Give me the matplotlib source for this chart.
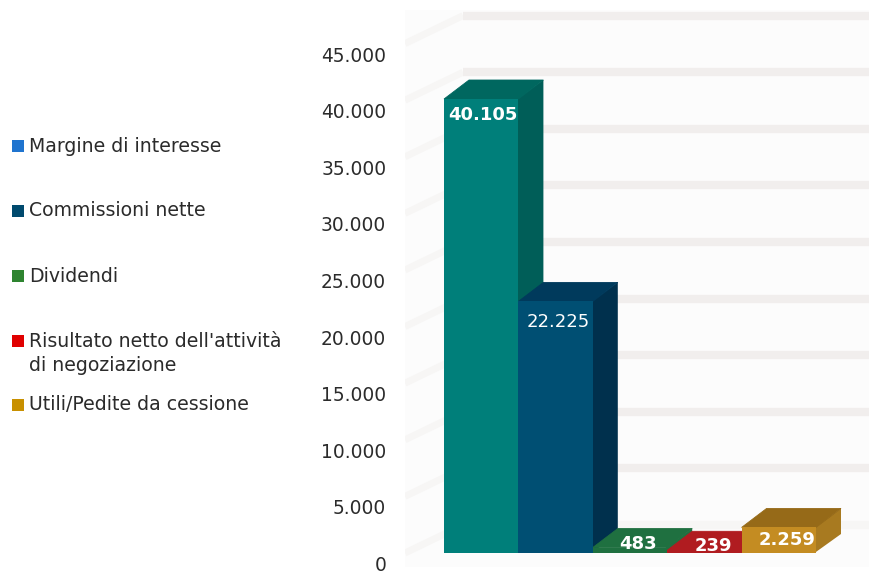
"""Recreates the 3D-style bar chart of income components (matplotlib only)."""

import matplotlib

matplotlib.use("Agg")
import matplotlib.pyplot as plt
from matplotlib.patches import Polygon, Rectangle
from matplotlib.transforms import ScaledTranslation

# --- data ------------------------------------------------------------------
LEGEND_LABELS = [
    "Margine di interesse",
    "Commissioni nette",
    "Dividendi",
    "Risultato netto dell'attività\ndi negoziazione",
    "Utili/Pedite da cessione",
]
VALUES = [40105, 22225, 483, 239, 2259]
VALUE_LABELS = ["40.105", "22.225", "483", "239", "2.259"]
TICKS = [0, 5000, 10000, 15000, 20000, 25000, 30000, 35000, 40000, 45000]
TICK_LABELS = ["0", "5.000", "10.000", "15.000", "20.000", "25.000",
               "30.000", "35.000", "40.000", "45.000"]

# --- style -----------------------------------------------------------------
FONT = "DejaVu Sans"
TEXT_COLOR = "#2b2b2b"
LEGEND_COLORS = ["#1f74cf", "#004a6e", "#2e8430", "#e00000", "#c89000"]
FRONT_COLORS = ["#007f7a", "#004f73", "#1f7040", "#b01c20", "#c48c22"]
SIDE_COLORS = ["#005e58", "#00304d", "#1f7040", "#b01c20", "#a87a20"]
TOP_COLORS = ["#00675f", "#003a5c", "#1f7040", "#b01c20", "#966a18"]
LABEL_WEIGHTS = ["bold", "normal", "bold", "bold", "bold"]
WALL_COLOR = "#fcfcfc"
GRID_COLOR = "#f1eeed"
GRID_COLOR_LOW = "#f7f6f5"   # the lowest stripe and the left wall are fainter

# --- layout (pixels; figure is 869 x 573 at dpi=100) -----------------------
W, H = 869, 573
AX_LEFT = 405
BASE_Y = 553        # pixel row of value 0 on the bar fronts
PX_PER_UNIT = 0.01132
BAR_LEFT = 444
BAR_W = 74.4
BAR_DX, BAR_DY = 25, 19
WALL_X, WALL_DY = 463, 28
LABEL_DX = [2, 3, 8, 9, 8]          # label centre right of the bar centre
LABEL_DROP = [16, 21, -4, -4, 13]   # label centre below the front top edge
LEGEND_Y = [146, 211, 276, 353.5, 405]

fig = plt.figure(figsize=(W / 100, H / 100), dpi=100, facecolor="white")
ax = fig.add_axes([AX_LEFT / W, 0, 1 - AX_LEFT / W, 1])

# data limits that put the bars on the pixels above
xmin = -0.5 - (BAR_LEFT - AX_LEFT) / BAR_W
xmax = xmin + (W - AX_LEFT) / BAR_W
ax.set_xlim(xmin, xmax)
ax.set_ylim(-(H - BASE_Y) / PX_PER_UNIT, BASE_Y / PX_PER_UNIT)
for spine in ax.spines.values():
    spine.set_visible(False)
ax.set_xticks([])

ax.set_yticks(TICKS, TICK_LABELS)
ax.tick_params(axis="y", length=0, pad=13.5, labelsize=13.4, labelcolor=TEXT_COLOR)
shift = ScaledTranslation(0, -10.5 / 100, fig.dpi_scale_trans)
for tick_label in ax.get_yticklabels():
    tick_label.set_fontfamily(FONT)
    tick_label.set_transform(tick_label.get_transform() + shift)

dx_bar = BAR_DX / BAR_W
dy_bar = BAR_DY / PX_PER_UNIT
dx_wall = (WALL_X - AX_LEFT) / BAR_W
dy_wall = WALL_DY / PX_PER_UNIT

# wall background and stripes
ax.add_patch(Rectangle((xmin, -14 / PX_PER_UNIT), xmax - xmin,
                       (BASE_Y - 10 + 14) / PX_PER_UNIT,
                       facecolor=WALL_COLOR, edgecolor="none", zorder=0))
for t in TICKS:
    stripe = GRID_COLOR_LOW if t < 5000 else GRID_COLOR
    ax.plot([xmin, xmin + dx_wall], [t, t + dy_wall], color=GRID_COLOR_LOW,
            lw=5, solid_capstyle="butt", zorder=1)
    ax.plot([xmin + dx_wall, xmax], [t + dy_wall, t + dy_wall], color=stripe,
            lw=6, solid_capstyle="butt", zorder=1)

# bars: front face from ax.bar, top and side faces offset from the same values
positions = list(range(len(VALUES)))
ax.bar(positions, VALUES, width=1.0, color=FRONT_COLORS, linewidth=0, zorder=3)
for i, v in enumerate(VALUES):
    l, r = i - 0.5, i + 0.5
    # edge on the faces hides the seam against the front; later bars stack higher
    ax.add_patch(Polygon([(r - 0.02, 0), (r + dx_bar, dy_bar), (r + dx_bar, v + dy_bar), (r - 0.02, v)],
                         facecolor=SIDE_COLORS[i], edgecolor="none", zorder=2 + i * 0.01))
    ax.add_patch(Polygon([(l, v), (l + dx_bar, v + dy_bar), (r + dx_bar, v + dy_bar), (r, v)],
                         facecolor=TOP_COLORS[i], edgecolor=TOP_COLORS[i], lw=0.6,
                         zorder=2.5 + i * 0.01))
    ax.annotate(VALUE_LABELS[i], (i, v), xytext=(LABEL_DX[i] * 0.72, -LABEL_DROP[i] * 0.72),
                textcoords="offset points", ha="center", va="center",
                color="white", fontsize=13, fontweight=LABEL_WEIGHTS[i], family=FONT, zorder=5)

# legend
for label, color, y in zip(LEGEND_LABELS, LEGEND_COLORS, LEGEND_Y):
    first_line_y = y - 12.5 if "\n" in label else y
    fig.add_artist(Rectangle((12 / W, 1 - (first_line_y + 6) / H), 12 / W, 12 / H,
                             facecolor=color, edgecolor="none",
                             transform=fig.transFigure))
    fig.text(29 / W, 1 - y / H, label, ha="left", va="center", fontsize=13.6,
             color=TEXT_COLOR, family=FONT, linespacing=1.3)

fig.savefig("out.png", dpi=100)
